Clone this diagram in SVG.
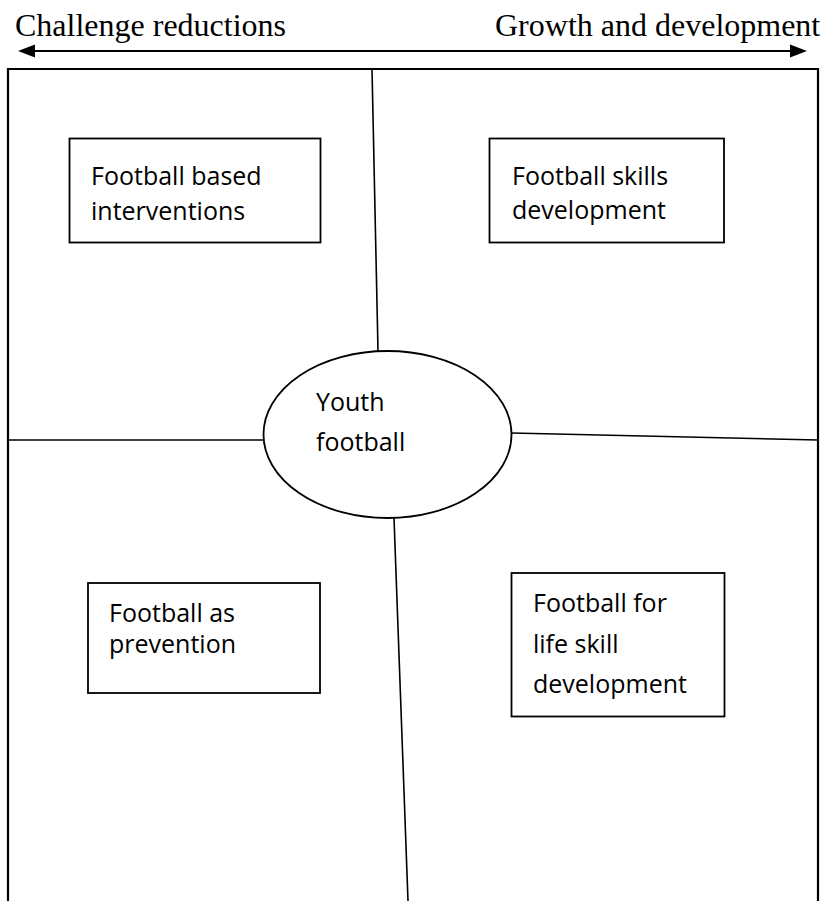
<svg xmlns="http://www.w3.org/2000/svg" width="821" height="901" viewBox="0 0 821 901">
<style>
.serif{font-family:"Liberation Serif","Times New Roman",serif;font-size:32px;fill:#000}
.lbl{font-family:"Open Sans","Noto Sans",sans-serif;font-size:25px;fill:#000}
.box{fill:#fff;stroke:#000;stroke-width:1.8}
.div{fill:none;stroke:#000;stroke-width:1.6}
.frame{fill:none;stroke:#000;stroke-width:2.2}
</style>
<rect width="821" height="901" fill="#fff"/>
<g id="axis">
<text class="serif" x="15" y="36">Challenge reductions</text>
<text class="serif" x="495" y="36">Growth and development</text>
<line x1="30" y1="51" x2="795" y2="51" stroke="#000" stroke-width="2"/>
<polygon points="18,51 35,44.5 35,57.5" fill="#000"/>
<polygon points="807,51 790,44.5 790,57.5" fill="#000"/>
</g>
<g id="frame">
<path class="frame" d="M8,901 V69 H818 V901"/>
</g>
<g id="connectors">
<line class="div" x1="372" y1="69" x2="378" y2="351"/>
<line class="div" x1="8" y1="440" x2="263.5" y2="440"/>
<line class="div" x1="511.5" y1="433" x2="818" y2="440"/>
<line class="div" x1="394" y1="518" x2="408" y2="901"/>
</g>
<g id="youth-football">
<ellipse class="box" cx="387.5" cy="434.5" rx="124" ry="83.5"/>
<text class="lbl" x="316" y="411">Youth</text>
<text class="lbl" x="316" y="451">football</text>
</g>
<g id="football-based-interventions">
<rect class="box" x="69.5" y="138.5" width="251" height="104"/>
<text class="lbl" x="91" y="185">Football based</text>
<text class="lbl" x="91" y="220">interventions</text>
</g>
<g id="football-skills-development">
<rect class="box" x="489.5" y="138.5" width="234.5" height="104"/>
<text class="lbl" x="512" y="185">Football skills</text>
<text class="lbl" x="512" y="219">development</text>
</g>
<g id="football-as-prevention">
<rect class="box" x="88" y="583" width="232" height="110"/>
<text class="lbl" x="109" y="622">Football as</text>
<text class="lbl" x="109" y="653">prevention</text>
</g>
<g id="football-life-skill">
<rect class="box" x="511.5" y="573" width="213" height="143.5"/>
<text class="lbl" x="533" y="612">Football for</text>
<text class="lbl" x="533" y="652.5">life skill</text>
<text class="lbl" x="533" y="693">development</text>
</g>
</svg>
